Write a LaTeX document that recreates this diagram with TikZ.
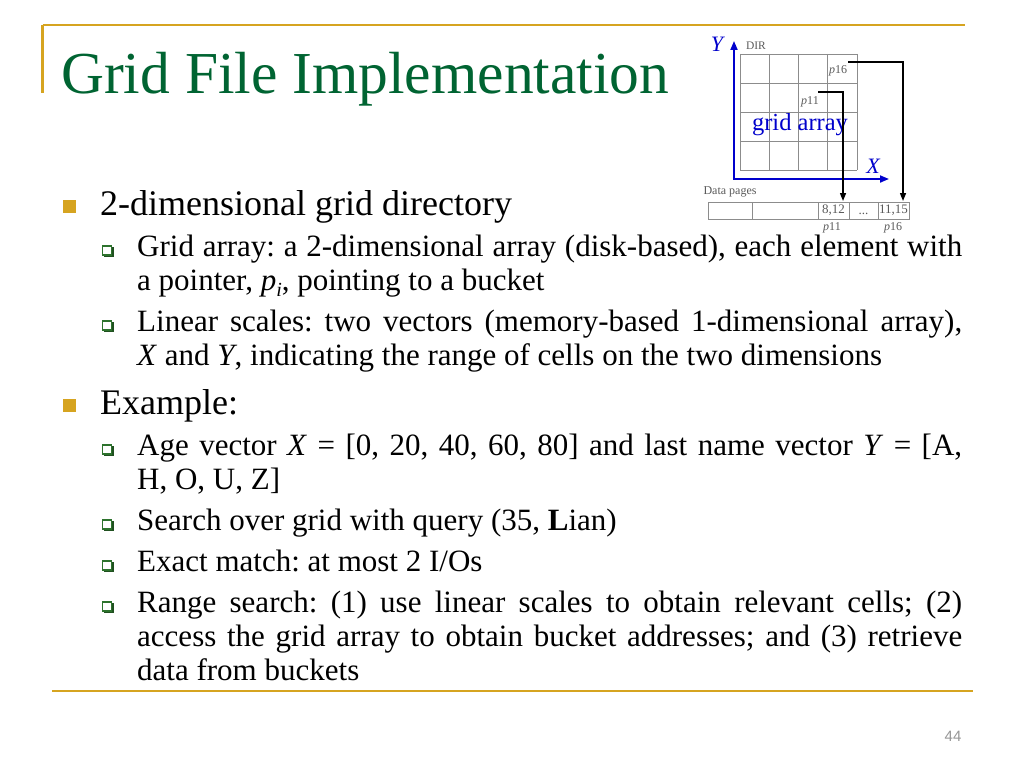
\documentclass[tikz,border=0pt]{standalone}
\usepackage{fontspec}
\setmainfont{Liberation Serif}
\newfontfamily\numfont{Liberation Sans}
\usetikzlibrary{arrows.meta}
\frenchspacing
\definecolor{gold}{RGB}{214,164,32}
\definecolor{titlegreen}{RGB}{0,100,50}
\definecolor{axisblue}{RGB}{0,0,204}
\definecolor{labgrey}{RGB}{90,90,90}
\definecolor{gridgrey}{RGB}{140,140,140}
\definecolor{bulletgreen}{RGB}{45,115,45}
\definecolor{pagegrey}{RGB}{150,150,150}
\tikzset{
  rule/.style={draw=gold, line width=2.2pt},
  lvlone/.style={anchor=base west, inner sep=0pt, font=\fontsize{36}{40}\selectfont},
  lvltwo/.style={anchor=base west, inner sep=0pt, text width=825pt, align=justify, font=\fontsize{31}{34}\selectfont},
  bulletone/.style={rectangle, fill=gold, minimum size=13pt, inner sep=0pt},
  bullettwo/.style={rectangle, draw=bulletgreen, fill=white, line width=1.3pt, minimum size=9pt, inner sep=0pt},
  gridline/.style={draw=gridgrey, line width=0.9pt},
  axisline/.style={draw=axisblue, line width=1.8pt},
  ptr/.style={draw=black, line width=1.4pt, -{Triangle[length=8pt,width=6pt]}},
  small/.style={inner sep=0pt, text=labgrey, font=\fontsize{11.5}{12}\selectfont},
  axlabel/.style={inner sep=0pt, text=axisblue, font=\fontsize{22}{24}\selectfont\itshape}
}
\newcommand{\bulltwo}[2]{%
  \fill[bulletgreen!70!black] (103.5,#2-9.5) rectangle (113.5,#2+0.5);
  \node[bullettwo] (#1) at (107,#2-5.5) {};}
\begin{document}
\begin{tikzpicture}[x=1pt,y=-1pt]
\useasboundingbox (0,0) rectangle (1024,768);
\fill[white] (0,0) rectangle (1024,768);

% frame rules
\draw[rule] (42.5,25) -- (965,25);
\draw[rule] (42.5,25) -- (42.5,93);
\draw[rule, line width=2pt] (52,691) -- (973,691);

% title
\node[anchor=base west, inner sep=0pt, text=titlegreen, font=\fontsize{59.5}{62}\selectfont] (title) at (61,93) {Grid File Implementation};

% level 1 bullets and text
\node[bulletone] (b1) at (69.5,206.5) {};
\node[lvlone] (t1) at (100,215) {2-dimensional grid directory};
\bulltwo{b11}{256}
\node[lvltwo] (t11) at (137,256) {Grid array: a 2-dimensional array (disk-based), each element with\linebreak a pointer, \textit{p}\raisebox{-6pt}{\fontsize{20}{20}\selectfont\textit{i}}, pointing to a bucket};
\bulltwo{b12}{331}
\node[lvltwo] (t12) at (137,331) {Linear scales: two vectors (memory-based 1-dimensional array),\linebreak \textit{X} and \textit{Y}, indicating the range of cells on the two dimensions};

\node[bulletone] (b2) at (69.5,405.5) {};
\node[lvlone] (t2) at (100,414) {Example:};
\bulltwo{b21}{455}
\node[lvltwo] (t21) at (137,455) {Age vector \textit{X} = [0, 20, 40, 60, 80] and last name vector \textit{Y} = [A,\linebreak H, O, U, Z]};
\bulltwo{b22}{530}
\node[lvltwo] (t22) at (137,530) {Search over grid with query (35, \textbf{L}ian)};
\bulltwo{b23}{571}
\node[lvltwo] (t23) at (137,571) {Exact match: at most 2 I/Os};
\bulltwo{b24}{612}
\node[lvltwo] (t24) at (137,612) {Range search: (1) use linear scales to obtain relevant cells; (2)\linebreak access the grid array to obtain bucket addresses; and (3) retrieve\linebreak data from buckets};

% page number
\node[inner sep=0pt, text=pagegrey, font=\numfont\fontsize{15}{16}\selectfont] (pnum) at (953,736) {44};

% ---------- diagram ----------
\foreach \i in {0,...,4} \draw[gridline] (740+\i*29.25,54) -- (740+\i*29.25,170);
\foreach \j in {0,...,4} \draw[gridline] (740,54+\j*29) -- (857,54+\j*29);
\node[small] (dir) at (756,46) {DIR};
\node[small, font=\fontsize{12}{13}\selectfont] (p16in) at (838,71) {\textit{p}16};
\node[small, font=\fontsize{12}{13}\selectfont] (p11in) at (810,102) {\textit{p}11};
\node[inner sep=0pt, text=axisblue, font=\fontsize{24.5}{26}\selectfont, anchor=base] (garr) at (800,130) {grid array};

\coordinate (origin) at (734,179);
\coordinate (ytip) at (734,41);
\coordinate (xtip) at (889,179);
\draw[axisline, {Triangle[length=9pt,width=7pt]}-{Triangle[length=9pt,width=7pt]}] (ytip) -- (origin) -- (xtip);
\node[axlabel] (ylab) at (717,44) {Y};
\node[axlabel] (xlab) at (873,166) {X};

% data pages
\node[small, font=\fontsize{12}{13}\selectfont] (dp) at (730,192) {Data pages};
\draw[gridline] (708,202) rectangle (909,219);
\foreach \x in {752,818,849,878} \draw[gridline] (\x,202) -- (\x,219);
\node[small, font=\fontsize{13}{14}\selectfont] (c812) at (833.5,210.5) {8,12};
\node[small, font=\fontsize{13}{14}\selectfont, anchor=base] (cdots) at (863.5,214) {...};
\node[small, font=\fontsize{13}{14}\selectfont] (c1115) at (893.5,210.5) {11,15};
\node[small, font=\fontsize{12}{13}\selectfont] (p11out) at (832,228) {\textit{p}11};
\node[small, font=\fontsize{12}{13}\selectfont] (p16out) at (893,228) {\textit{p}16};

\coordinate (s11) at (818,92);
\coordinate (e11) at (843,201);
\coordinate (s16) at (848,62);
\coordinate (e16) at (903,201);
\draw[ptr] (s11) -| (e11);
\draw[ptr] (s16) -| (e16);
\end{tikzpicture}
\end{document}
